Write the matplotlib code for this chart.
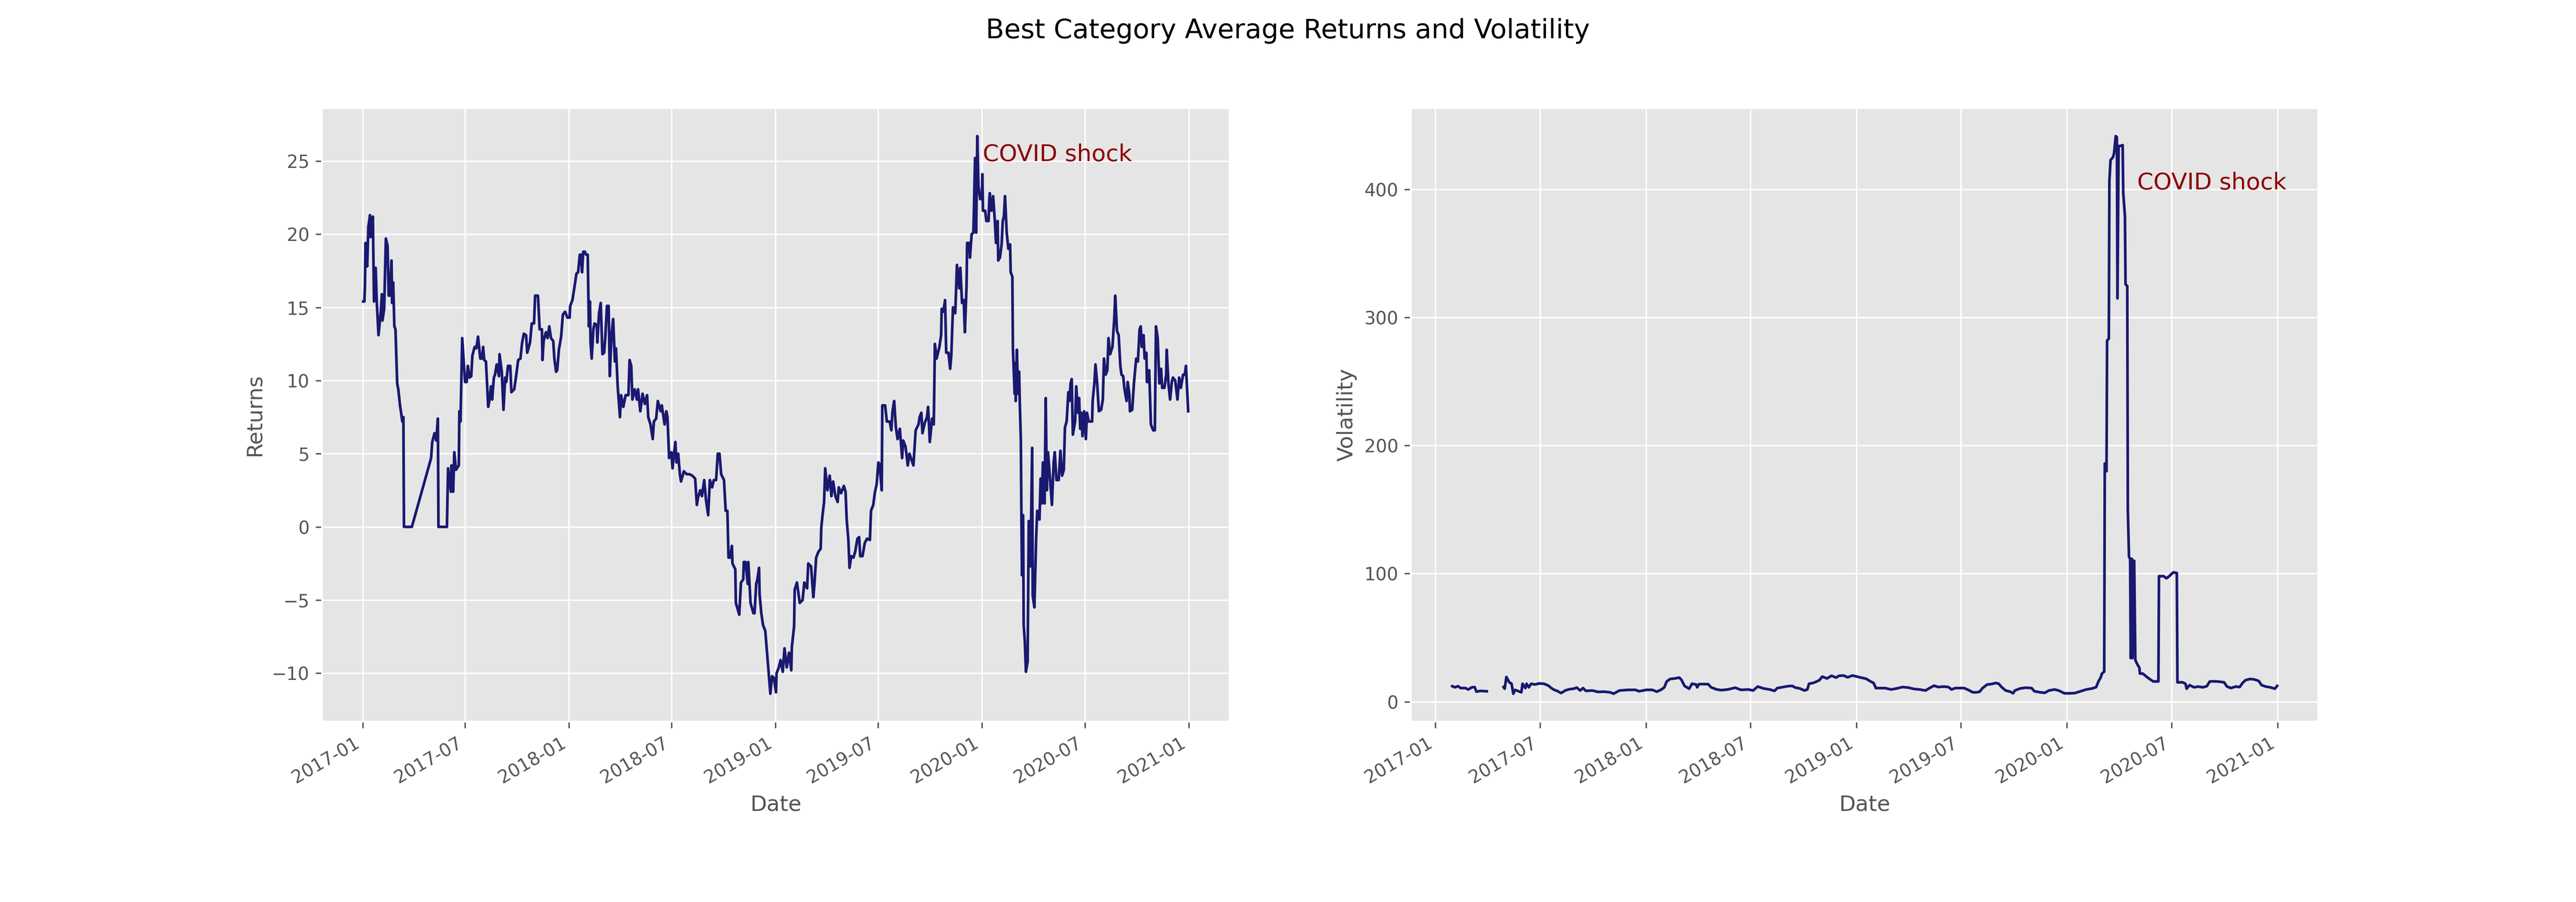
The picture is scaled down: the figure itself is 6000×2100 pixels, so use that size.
import numpy as np
import pandas as pd
import matplotlib
matplotlib.use("Agg")
import matplotlib.pyplot as plt
import matplotlib.dates as mdates

plt.style.use("ggplot")

# days counted from 2017-01-01
ret_day = [1, 3, 4, 5, 8, 10, 13, 14, 16, 18, 20, 23, 25, 28, 32, 34, 35, 38, 41, 44,
           46, 48, 51, 52, 54, 56, 58, 61, 63, 66, 68, 70, 72, 73, 87, 121, 123, 127, 130, 133,
           134, 149, 151, 156, 157, 160, 162, 165, 170, 171, 173, 176, 181, 184, 186, 189, 192, 194, 198, 201,
           204, 208, 211, 213, 215, 218, 222, 224, 227, 229, 232, 234, 237, 241, 242, 246, 249, 252, 254, 257,
           261, 263, 268, 271, 275, 279, 282, 285, 289, 291, 296, 299, 303, 305, 310, 313, 317, 318, 320, 324,
           327, 330, 333, 337, 339, 342, 344, 347, 351, 354, 358, 362, 366, 367, 371, 375, 378, 381, 384, 386,
           388, 390, 393, 395, 398, 399, 400, 402, 403, 405, 408, 410, 414, 415, 418, 421, 424, 427, 429, 432,
           435, 437, 440, 443, 446, 448, 451, 455, 457, 461, 465, 470, 472, 475, 477, 481, 485, 487, 491, 495,
           499, 503, 505, 509, 513, 515, 519, 522, 527, 529, 534, 537, 539, 542, 546, 548, 551, 553, 555, 558,
           561, 563, 568, 573, 578, 583, 588, 591, 593, 597, 600, 604, 607, 611, 614, 618, 621, 625, 628, 631,
           634, 639, 642, 645, 647, 650, 653, 654, 659, 660, 666, 669, 673, 674, 677, 681, 682, 686, 691, 693,
           696, 698, 701, 702, 705, 708, 712, 716, 719, 721, 724, 727, 731, 732, 736, 739, 743, 746, 750, 754,
           758, 759, 763, 764, 768, 773, 778, 781, 786, 788, 793, 797, 799, 802, 806, 810, 811, 813, 816, 818,
           822, 826, 829, 832, 836, 840, 842, 846, 851, 854, 856, 859, 861, 864, 868, 871, 875, 878, 880, 884,
           888, 892, 897, 899, 903, 906, 909, 912, 914, 918, 919, 924, 927, 932, 935, 937, 940, 943, 946, 950,
           954, 956, 960, 964, 967, 974, 978, 983, 985, 988, 990, 994, 998, 1000, 1003, 1007, 1010, 1012, 1015, 1020,
           1023, 1024, 1027, 1030, 1032, 1036, 1039, 1041, 1044, 1048, 1051, 1055, 1057, 1060, 1063, 1065, 1068, 1069, 1073, 1074,
           1077, 1080, 1081, 1083, 1085, 1087, 1089, 1092, 1095, 1096, 1097, 1101, 1103, 1107, 1108, 1109, 1112, 1115, 1118, 1120,
           1123, 1124, 1127, 1130, 1132, 1134, 1136, 1139, 1142, 1145, 1146, 1149, 1150, 1153, 1154, 1155, 1157, 1159, 1161, 1162,
           1164, 1165, 1166, 1168, 1169, 1171, 1173, 1176, 1178, 1181, 1184, 1185, 1188, 1191, 1193, 1197, 1199, 1201, 1203, 1206,
           1208, 1210, 1212, 1215, 1219, 1222, 1224, 1227, 1231, 1234, 1237, 1240, 1242, 1245, 1248, 1250, 1252, 1254, 1256, 1260,
           1262, 1265, 1267, 1269, 1271, 1273, 1276, 1279, 1281, 1284, 1290, 1291, 1294, 1296, 1299, 1302, 1306, 1309, 1311, 1314,
           1317, 1319, 1322, 1326, 1329, 1331, 1334, 1337, 1340, 1342, 1345, 1347, 1351, 1353, 1356, 1357, 1361, 1364, 1368, 1371,
           1374, 1376, 1378, 1381, 1383, 1386, 1387, 1390, 1391, 1394, 1398, 1401, 1403, 1406, 1409, 1412, 1414, 1418, 1421, 1422,
           1425, 1428, 1431, 1433, 1437, 1441, 1444, 1447, 1451, 1454, 1456, 1460]
ret_val = [15.4, 15.4, 16.5, 19.4, 17.8, 20.5, 21.3, 19.8, 20.1, 21.2, 15.4, 17.7, 15.3, 13.1, 14.7, 15.9, 14.1, 14.9, 19.7, 19.2,
           15.8, 15.8, 18.2, 15.3, 16.7, 13.7, 13.5, 9.8, 9.4, 8.3, 7.8, 7.2, 7.5, 0.0, 0.0, 4.7, 5.8, 6.4, 5.9, 7.4,
           0.0, 0.0, 4.0, 2.4, 4.2, 2.4, 5.1, 3.9, 4.2, 7.9, 7.2, 12.9, 9.9, 9.9, 11.0, 10.2, 10.3, 11.7, 12.3, 12.2,
           13.0, 11.5, 11.5, 12.3, 11.4, 11.3, 8.2, 8.6, 9.6, 8.7, 10.2, 10.4, 11.1, 10.3, 11.8, 10.6, 8.0, 10.2, 9.9, 11.0,
           11.0, 9.2, 9.4, 10.2, 11.4, 11.5, 12.6, 13.2, 13.1, 11.9, 12.6, 13.9, 13.9, 15.8, 15.8, 13.5, 13.5, 11.4, 12.7, 13.3,
           12.9, 13.7, 12.9, 12.7, 11.5, 10.6, 10.7, 12.1, 13.0, 14.5, 14.7, 14.3, 14.3, 15.1, 15.5, 16.5, 17.3, 17.4, 18.6, 18.6,
           17.4, 18.8, 18.8, 18.6, 18.6, 16.1, 13.7, 15.4, 12.6, 11.5, 13.5, 13.9, 13.8, 12.6, 14.6, 15.3, 11.8, 11.9, 12.9, 15.1,
           15.1, 10.3, 13.1, 14.2, 11.3, 12.2, 9.6, 7.5, 9.0, 8.2, 9.0, 9.0, 11.4, 11.0, 8.7, 9.4, 8.7, 9.4, 7.9, 9.1,
           8.4, 9.0, 7.5, 7.0, 6.0, 7.2, 7.4, 8.6, 7.9, 8.3, 7.0, 7.9, 7.5, 4.7, 5.1, 4.0, 5.1, 5.8, 4.4, 5.0,
           3.6, 3.1, 3.8, 3.6, 3.6, 3.5, 3.3, 1.5, 2.0, 2.5, 2.1, 3.2, 1.9, 0.8, 3.2, 2.7, 3.2, 3.2, 5.0, 5.0,
           3.6, 3.2, 1.1, 1.1, -2.1, -2.1, -1.3, -2.5, -2.9, -5.2, -6.0, -3.8, -3.6, -2.4, -2.4, -3.9, -2.4, -5.2, -5.9, -5.9,
           -3.9, -3.6, -2.8, -4.6, -5.9, -6.7, -7.1, -9.0, -10.4, -11.4, -10.2, -10.3, -11.3, -10.0, -9.6, -9.1, -9.9, -8.3, -9.6, -8.6,
           -9.8, -8.2, -6.8, -4.3, -3.8, -5.2, -5.0, -3.8, -4.2, -2.5, -2.7, -4.8, -3.9, -2.1, -1.7, -1.5, -0.1, 0.7, 1.7, 4.0,
           2.5, 3.5, 2.1, 3.1, 2.1, 1.7, 2.7, 2.3, 2.8, 2.4, 0.5, -0.9, -2.8, -2.0, -2.1, -1.7, -0.8, -0.7, -2.0, -2.0,
           -1.1, -0.8, -0.9, 1.1, 1.5, 2.4, 2.9, 4.4, 4.3, 2.5, 8.3, 8.3, 7.2, 7.2, 6.6, 7.9, 8.6, 6.8, 6.0, 6.7,
           4.7, 5.9, 5.5, 4.2, 5.0, 4.2, 6.6, 7.0, 7.5, 7.8, 6.4, 7.1, 7.5, 8.2, 5.8, 7.4, 7.0, 12.5, 11.5, 12.3,
           13.1, 14.9, 14.7, 15.5, 11.9, 11.9, 10.8, 11.7, 15.0, 14.6, 17.9, 16.3, 17.7, 15.3, 15.5, 13.3, 16.5, 19.4, 19.4, 18.4,
           20.0, 20.1, 21.6, 25.2, 20.1, 26.7, 23.3, 22.4, 22.4, 24.1, 21.6, 21.6, 20.9, 20.9, 22.2, 22.8, 21.6, 22.6, 20.9, 19.4,
           20.9, 18.2, 18.4, 19.3, 20.9, 21.2, 22.6, 20.1, 19.0, 19.3, 17.4, 17.1, 12.2, 9.1, 11.2, 8.6, 12.1, 9.1, 10.6, 8.7,
           5.9, 0.8, -3.3, 0.8, -6.7, -7.8, -9.9, -9.2, 0.4, -2.7, 5.4, -4.7, -5.5, -0.8, 1.1, 0.5, 3.3, 1.6, 4.4, 1.6,
           8.8, 2.5, 5.1, 3.6, 1.5, 4.4, 5.1, 3.2, 3.2, 5.2, 3.5, 3.9, 6.8, 7.2, 9.2, 8.6, 9.8, 10.1, 6.3, 7.2,
           9.6, 7.8, 8.8, 6.7, 7.8, 6.2, 7.9, 6.0, 7.8, 7.2, 7.2, 8.6, 9.8, 11.1, 9.8, 7.9, 8.0, 8.7, 11.5, 10.4,
           10.7, 12.9, 11.8, 12.3, 14.1, 15.8, 13.4, 13.1, 11.0, 10.4, 10.3, 9.5, 8.6, 9.9, 9.0, 7.9, 8.0, 9.8, 11.5, 11.3,
           13.5, 13.7, 12.3, 13.1, 11.5, 11.9, 9.9, 9.9, 10.7, 7.0, 6.6, 6.6, 13.7, 12.9, 9.8, 10.8, 9.5, 9.5, 10.4, 12.1,
           9.8, 8.7, 9.9, 10.2, 10.0, 8.7, 10.2, 9.5, 10.4, 10.4, 11.0, 7.9]

vol_day = [29, 34, 39, 44, 52, 57, 63, 68, 71, 78, 89, 100, 118, 120, 123, 128, 132, 135, 138, 149,
           151, 156, 158, 162, 166, 172, 180, 188, 196, 201, 206, 211, 218, 225, 232, 240, 245, 251, 256, 261,
           272, 282, 292, 303, 309, 319, 334, 347, 353, 366, 376, 384, 392, 397, 401, 407, 415, 423, 427, 432,
           440, 445, 452, 454, 457, 473, 478, 488, 496, 507, 520, 530, 543, 551, 559, 569, 580, 588, 593, 603,
           611, 619, 624, 632, 640, 645, 648, 655, 661, 666, 671, 679, 687, 695, 700, 708, 715, 723, 731, 736,
           747, 755, 760, 764, 770, 780, 790, 800, 810, 820, 830, 840, 850, 857, 865, 872, 882, 890, 895, 902,
           910, 917, 925, 932, 939, 944, 949, 957, 964, 972, 977, 982, 989, 997, 1002, 1005, 1014, 1024, 1034, 1039,
           1049, 1057, 1064, 1074, 1081, 1091, 1099, 1109, 1119, 1129, 1139, 1146, 1150, 1154, 1156, 1160, 1161, 1164, 1165, 1168,
           1169, 1171, 1175, 1177, 1180, 1182, 1183, 1185, 1188, 1192, 1193, 1196, 1197, 1200, 1201, 1203, 1205, 1206, 1208, 1209,
           1212, 1214, 1217, 1221, 1222, 1227, 1231, 1235, 1240, 1245, 1254, 1255, 1263, 1268, 1273, 1276, 1280, 1286, 1287, 1296,
           1301, 1303, 1308, 1316, 1323, 1331, 1338, 1343, 1348, 1358, 1368, 1373, 1380, 1388, 1395, 1400, 1405, 1413, 1420, 1428,
           1433, 1440, 1448, 1456, 1460]
vol_val = [12.1, 11.2, 12.1, 10.6, 10.6, 9.5, 11.2, 11.4, 7.8, 8.4, 8.1, np.nan, 11.4, 10.1, 19.3, 15.1, 14.0, 6.2, 9.2, 7.3,
           14.0, 10.6, 14.0, 11.2, 14.0, 13.4, 14.2, 14.0, 12.5, 10.6, 9.2, 8.4, 6.7, 8.7, 9.7, 10.1, 11.0, 8.7, 10.6, 8.4,
           8.7, 7.6, 7.8, 7.3, 6.2, 8.7, 9.2, 9.2, 8.1, 9.2, 9.2, 7.8, 9.5, 11.2, 15.7, 17.7, 18.1, 18.8, 16.8, 12.3,
           10.1, 14.0, 13.4, 11.2, 13.7, 13.7, 11.2, 9.5, 9.0, 9.5, 10.9, 9.2, 9.5, 8.7, 11.8, 10.3, 9.5, 8.4, 10.6, 11.4,
           12.1, 12.3, 11.0, 10.3, 8.7, 9.5, 14.0, 14.6, 15.7, 16.8, 19.6, 18.1, 20.2, 18.8, 20.2, 20.4, 19.0, 20.4, 19.6, 19.0,
           17.9, 15.7, 14.6, 10.6, 10.6, 10.6, 9.5, 10.3, 11.4, 11.0, 9.9, 9.5, 8.7, 10.6, 12.5, 11.4, 11.8, 11.4, 9.5, 10.6,
           10.6, 10.6, 9.0, 7.3, 7.3, 7.8, 10.6, 13.4, 13.7, 14.6, 14.0, 11.4, 8.7, 7.8, 6.5, 8.7, 10.3, 10.9, 10.6, 8.1,
           7.3, 6.9, 8.7, 9.5, 8.7, 6.5, 6.5, 6.7, 8.1, 9.5, 10.3, 11.3, 15.8, 18.9, 21.9, 23.4, 186.0, 180.0, 282.0, 283.5,
           406.7, 423.0, 425.0, 428.0, 441.7, 440.8, 315.0, 434.0, 434.0, 434.7, 397.6, 379.0, 326.0, 324.6, 149.7, 113.0, 111.6, 34.0, 111.6, 34.0,
           110.0, 32.5, 29.5, 26.5, 21.9, 21.9, 20.4, 18.9, 17.3, 15.8, 15.8, 98.0, 98.0, 96.4, 98.0, 99.5, 101.0, 100.5, 15.1, 15.1,
           14.0, 10.1, 12.9, 11.2, 11.8, 11.2, 12.1, 15.7, 15.9, 15.7, 15.1, 11.8, 10.6, 11.8, 11.4, 14.6, 16.8, 17.7, 17.4, 16.2,
           12.9, 11.8, 11.2, 10.1, 12.3]

start = pd.Timestamp("2017-01-01")
ret_dates = start + pd.to_timedelta(ret_day, unit="D")
vol_dates = start + pd.to_timedelta(vol_day, unit="D")

fig, (ax1, ax2) = plt.subplots(1, 2, figsize=(20, 7))
fig.suptitle("Best Category Average Returns and Volatility", fontsize=15)

ax1.plot(ret_dates, ret_val, color="midnightblue", linewidth=1.5)
ax1.text(pd.Timestamp("2020-01-03"), 25, "COVID shock", color="darkred", fontsize=13)
ax1.set_xlabel("Date")
ax1.set_ylabel("Returns")

ax2.plot(vol_dates, vol_val, color="midnightblue", linewidth=1.5)
ax2.text(pd.Timestamp("2020-05-02"), 400, "COVID shock", color="darkred", fontsize=13)
ax2.set_xlabel("Date")
ax2.set_ylabel("Volatility")

for ax in (ax1, ax2):
    ax.xaxis.set_major_locator(mdates.MonthLocator(bymonth=(1, 7)))
    ax.xaxis.set_major_formatter(mdates.DateFormatter("%Y-%m"))

fig.autofmt_xdate()
plt.savefig("out.png", dpi=300)
